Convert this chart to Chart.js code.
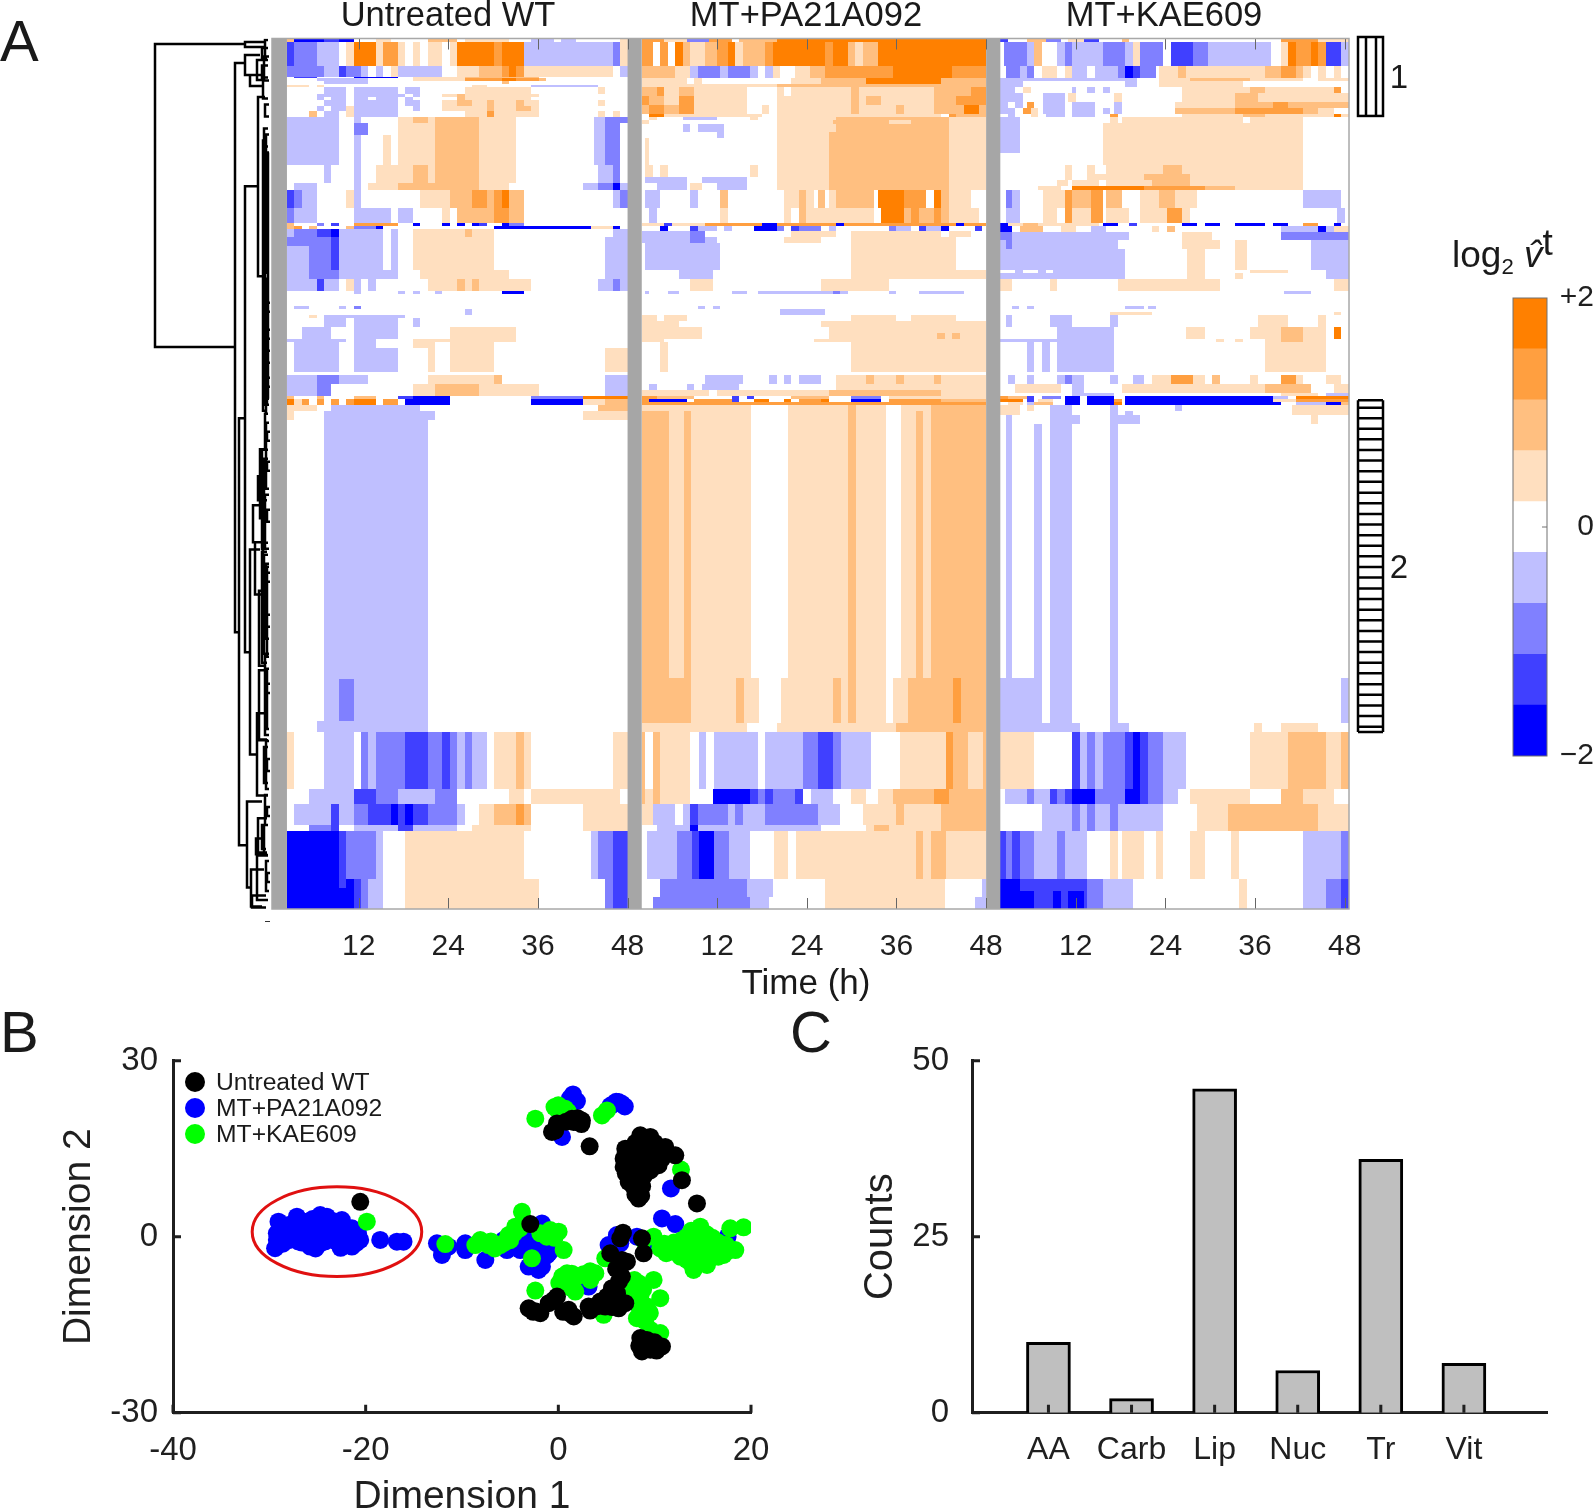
<!DOCTYPE html>
<html lang="en">
<head>
<meta charset="UTF-8">
<title>Flux heatmap, embedding and counts</title>
<style>
    body { margin: 0; background: #fff; font-family: "Liberation Sans", Arial, sans-serif; color: #1a1a1a; }
    #page { position: relative; width: 1594px; height: 1511px; overflow: hidden; }
    canvas { position: absolute; }
    .lbl { position: absolute; white-space: nowrap; line-height: 1; }
    .mid { transform: translate(-50%, -50%); }
    .dot { position: absolute; width: 20px; height: 20px; border-radius: 50%; }
    sub { font-size: 60%; vertical-align: -7px; line-height: 0; }
    sup { font-size: 100%; vertical-align: 12px; line-height: 0; }
</style>
</head>
<body>
<div id="page">
    <canvas id="dendro" width="272" height="1000" style="left:0;top:0"></canvas>
    <canvas id="heat" width="1594" height="1000" style="left:0;top:0"></canvas>
    <canvas id="cbar" width="94" height="500" style="left:1500px;top:280px"></canvas>
    <canvas id="embed" width="780" height="471" style="left:0;top:1040px"></canvas>
    <canvas id="counts" width="814" height="471" style="left:780px;top:1040px"></canvas>

    <div class="lbl" style="left:0;top:12px;font-size:58px">A</div>
    <div class="lbl" style="left:0;top:1003px;font-size:58px">B</div>
    <div class="lbl" style="left:790px;top:1003px;font-size:58px">C</div>

    <div class="lbl mid" style="left:448px;top:14px;font-size:34.5px">Untreated WT</div>
    <div class="lbl mid" style="left:806px;top:14px;font-size:34.5px">MT+PA21A092</div>
    <div class="lbl mid" style="left:1164px;top:14px;font-size:34.5px">MT+KAE609</div>
    <div class="lbl mid" style="left:806px;top:981px;font-size:35px">Time (h)</div>
    <div class="lbl mid" style="left:1399px;top:76px;font-size:33px">1</div>
    <div class="lbl mid" style="left:1399px;top:566px;font-size:33px">2</div>
    <div class="lbl" style="left:1452px;top:236px;font-size:37px">log<sub>2</sub> <i>v&#770;</i><sup>t</sup></div>

    <div class="dot" style="left:185px;top:1072px;background:#000"></div>
    <div class="dot" style="left:185px;top:1098px;background:#0000ff"></div>
    <div class="dot" style="left:185px;top:1124px;background:#00ff00"></div>
    <div class="lbl" style="left:216px;top:1070px;font-size:24.7px">Untreated WT</div>
    <div class="lbl" style="left:216px;top:1096px;font-size:24.7px">MT+PA21A092</div>
    <div class="lbl" style="left:216px;top:1122px;font-size:24.7px">MT+KAE609</div>
    <div style="position:absolute;left:265px;top:921px;width:5px;height:1px;background:#333"></div>
</div>

<script src="https://cdn.jsdelivr.net/npm/chart.js"></script>
<script>
// heatmap axis
const timeTicks = [12, 24, 36, 48, 60, 72, 84, 96, 108, 120, 132, 144];
const timeLabels = ['12', '24', '36', '48', '12', '24', '36', '48', '12', '24', '36', '48'];
const missingBlocks = [[0.4, 2.4], [48, 49.9], [96, 97.9]];
const panelSpans = [[2.4, 48], [49.9, 96], [97.9, 144.55]];
const rowCount = 290;

// log2 levels, -4..4 are the nine colour steps
const levelColors = { '4': '#ff8000', '3': '#ff9f40', '2': '#ffbf80', '1': '#ffdfbf', '-1': '#bfbfff', '-2': '#8080ff', '-3': '#4040ff', '-4': '#0000ff' };
const colorbarLevels = [-4, -3, -2, -1, 0, 1, 2, 3, 4];
const colorbarEdges = [-2, -1.556, -1.111, -0.667, -0.222, 0.222, 0.667, 1.111, 1.556, 2];

// [rowFrom, rowTo, [[colFrom, colTo, level], ...]]
const heatUntreated = [
    [0, 1, [[0, 1, 2], [1, 9, -4], [5, 7, -3], [12, 14, 1], [19, 23, 2], [24, 30, 1], [33, 36, -1], [37, 39, -1], [45, 46, 1]]],
    [1, 9, [[0, 1, -3], [1, 4, -2], [4, 7, -1], [8, 9, 1], [9, 12, 4], [12, 13, 1], [13, 15, 3], [15, 16, 1], [17, 18, 1], [18, 19, 0], [19, 21, 1], [22, 23, 1], [23, 28, 4], [28, 29, 3], [29, 32, 4], [32, 44, -1], [44, 45, -2], [45, 46, 1]]],
    [9, 12.7, [[0, 5, -2], [5, 7, -1], [7, 8, -3], [8, 10, -2], [10, 11, -1], [12, 13, -1], [14, 15, 1], [15, 21, -1], [23, 26, 1], [26, 29, 2], [29, 30, 3], [30, 31, 4], [31, 32, 3], [32, 44, 1], [45, 46, -1]]],
    [12.7, 13.2, [[1, 4, -3], [9, 15, -4], [17, 24, 1], [24, 34, 2]]],
    [13.2, 14.2, [[4, 11, -1], [17, 24, 1], [24, 34, 3], [29, 31, 4], [34, 35, 2]]],
    [14.2, 15, [[5, 11, -1], [29, 30, 2]]],
    [15.5, 16, [[0, 3, 1], [4, 5, 1], [25, 27, 1], [33, 42, -1]]],
    [16, 18.5, [[5, 8, -1], [9, 15, -1], [16, 18, -1], [24, 33, 1], [42, 43, 1]]],
    [18.5, 19.5, [[4, 8, -1], [9, 15, -1], [15, 16, -1], [17, 18, -1], [21, 34, 1], [23, 24, 2]]],
    [19.5, 20.5, [[4, 5, -1], [6, 8, -1], [9, 11, -1], [12, 15, -1], [16, 17, -1], [23, 33, 1], [23, 24, 2]]],
    [20.5, 22.5, [[5, 8, -1], [9, 15, -1], [16, 18, -1], [21, 34, 1], [23, 25, 2], [27, 28, 2], [31, 32, 2], [42, 43, 1]]],
    [22.5, 24, [[4, 5, -1], [6, 8, -1], [8, 9, 1], [9, 15, -1], [17, 18, -1], [21, 27, 1], [27, 28, 2], [28, 31, 1], [31, 33, 2], [33, 34, 1]]],
    [24, 26, [[3, 4, 2], [5, 7, -1], [8, 9, 1], [9, 15, -1], [24, 27, 1], [27, 28, 3], [28, 34, 1], [42, 43, 1], [44, 45, 1]]],
    [26, 28, [[0, 7, -1], [9, 10, -1], [15, 26, 1], [17, 19, 2], [20, 26, 2], [26, 31, 1], [43, 45, -2], [41.5, 43, -1], [45, 46, -2]]],
    [28, 32, [[0, 7, -1], [9, 11, -2], [15, 20, 1], [20, 26, 2], [26, 31, 1], [41.5, 43, -1], [43, 45, -2]]],
    [32, 42, [[0, 7, -1], [9, 10, -1], [13, 14, 1], [15, 20, 1], [20, 26, 2], [26, 31, 1], [41.5, 43, -1], [43, 45, -2]]],
    [42, 48, [[5, 6, -1], [9, 10, -1], [12, 17, 1], [17, 19, 2], [19, 20, 1], [20, 26, 2], [26, 31, 1], [42, 44, -1], [44, 45, -2]]],
    [48, 50.5, [[1, 4, -1], [9, 10, -1], [11, 15, 1], [15, 20, 2], [20, 26, 2], [26, 30, 1], [40, 42, -1], [42, 44, -2], [44, 45, -4], [45, 46, -1]]],
    [50.5, 56.5, [[0, 1, -3], [1, 2, -2], [2, 4, -1], [8, 9, 1], [9, 10, -1], [18, 22, 1], [22, 25, 2], [25, 27, 3], [27, 28, 2], [28, 29, 3], [29, 30, 4], [30, 32, 2], [44, 45, -1], [45, 46, -2]]],
    [56.5, 61.5, [[0, 1, -2], [1, 4, -1], [9, 14, -1], [15, 17, -1], [21, 22, 1], [23, 28, 2], [28, 30, 3], [30, 32, 2]]],
    [61.5, 62.3, [[0, 1, 2], [4, 5, -2], [6, 7, -3], [9, 15, 3], [17, 18, -4], [21, 22, -4], [23, 24, -4], [25, 26, -4], [26, 27, -3], [29, 30, -4], [30, 32, -2]]],
    [62.3, 63.5, [[0, 1, 2], [1, 2, 3], [3, 4, 2], [8, 9, 2], [9, 12, -2], [12, 13, -4], [28, 41, -4], [41, 44, 1], [44, 45, -4]]],
    [63.5, 66, [[0, 1, -1], [1, 4, -2], [4, 6, -3], [6, 7, -4], [7, 13, -1], [14, 15, -1], [17, 24, 1], [24, 25, 2], [25, 28, 1], [44, 46, -1]]],
    [66, 69, [[0, 3, -2], [3, 6, -2], [6, 7, -3], [7, 13, -1], [14, 15, -1], [17, 28, 1], [43, 46, -1]]],
    [69, 77, [[0, 3, -1], [3, 6, -2], [6, 7, -3], [7, 13, -1], [14, 15, -1], [17, 28, 1], [43, 46, -1]]],
    [77, 80, [[0, 3, -1], [3, 7, -2], [7, 15, -1], [18, 28, 1], [28, 30, 1], [43, 46, -1]]],
    [80, 84, [[0, 7, -1], [4, 5, -3], [8, 9, 1], [9, 10, -1], [11, 12, -1], [19, 33, 1], [23, 24, 2], [25, 26, 2], [42, 46, -1], [44, 45, -2]]],
    [84, 85, [[9, 10, -1], [15, 16, -1], [17, 18, -1], [20, 21, -1], [29, 32, -4]]],
    [89, 90, [[1, 3, -1], [7, 8, -1], [9, 10, -2]]],
    [90, 92, [[24, 25, -1]]],
    [92, 93, [[3, 4, 1], [5, 16, -1]]],
    [93, 96, [[5, 8, -1], [9, 15, -1], [17, 18, -1]]],
    [96, 100, [[2, 6, -1], [9, 15, -1], [22, 31, 1]]],
    [100, 101, [[0, 8, -1], [9, 12, -1], [17, 31, 1]]],
    [101, 103, [[1, 7, -1], [9, 12, -1], [17, 20, 1], [22, 28, 1]]],
    [103, 111, [[1, 7, -1], [9, 15, -1], [19, 20, 1], [22, 28, 1], [43, 46, 1]]],
    [112, 115, [[0, 11, -1], [4, 7, -2], [19, 28, 1], [28, 29, 2], [43, 46, -1]]],
    [115, 119, [[0, 6, -1], [4, 6, -2], [17, 34, 1], [20, 26, 2], [43, 46, -1]]],
    [119, 120, [[0, 1, 2], [4, 5, 2], [9, 12, 2], [15, 22, -3], [17, 22, -4], [33, 40, -2], [40, 46, 4]]],
    [120, 122, [[0, 1, 4], [1, 2, 1], [2, 3, 3], [4, 5, 3], [6, 7, 3], [8, 9, 3], [9, 12, 4], [13, 15, 3], [16, 22, -4], [33, 40, -4], [40, 43, 1], [43, 46, 2]]],
    [122, 124, [[0, 4, 1], [6, 18, -1], [42, 46, 2]]],
    [124, 127, [[0, 1, 1], [5, 20, -1], [40, 46, 1]]],
    [127, 213.5, [[5, 19, -1]]],
    [213.5, 227.5, [[5, 7, -1], [7, 9, -2], [9, 19, -1]]],
    [227.5, 231, [[4, 19, -1]]],
    [231, 250, [[0, 1, 1], [5, 9, -1], [10, 11, -2], [11, 12, -1], [12, 16, -2], [16, 19, -3], [19, 21, -2], [21, 22, -3], [22, 23, -2], [23, 24, -1], [24, 25, -2], [25, 27, -1], [28, 31, 1], [31, 32, 2], [32, 33, 1], [44, 46, 1]]],
    [250, 255, [[3, 9, -1], [9, 12, -3], [12, 15, -2], [15, 20, -1], [20, 23, -2], [30, 32, 1], [33, 45, 1]]],
    [255, 262, [[1, 6, -1], [6, 7, -3], [7, 9, -1], [9, 11, -2], [11, 14, -3], [14, 15, -4], [15, 16, -3], [16, 17, -4], [17, 19, -3], [19, 23, -2], [23, 24, -1], [26, 28, 1], [28, 31, 2], [31, 32, 3], [32, 33, 2], [40, 46, 1]]],
    [262, 264, [[3, 6, -2], [6, 7, -3], [9, 15, -1], [15, 17, -3], [17, 23, -1], [25, 33, 1], [40, 46, 1]]],
    [264, 280, [[0, 7, -4], [7, 8, -3], [8, 12, -2], [12, 13, -1], [16, 32, 1], [41, 42, -1], [42, 44, -2], [44, 46, -3]]],
    [280, 283, [[0, 7, -4], [7, 8, -3], [8, 9, -4], [9, 10, -3], [10, 11, -2], [11, 13, -1], [16, 34, 1], [43, 44, -2], [44, 46, -3]]],
    [283, 290, [[0, 9, -4], [9, 10, -3], [10, 11, -2], [11, 13, -1], [16, 34, 1], [43, 44, -2], [44, 46, -3]]]
];

const heatPA21A092 = [
    [0, 1, [[0, 3, 3], [3, 7, 1], [6, 9, -2], [9, 12, 3], [13, 18, 2], [18, 46, 4]]],
    [1, 9, [[0, 1.5, 3], [2.5, 3.5, 3], [4.5, 5.5, 4], [5.5, 6.5, 2], [6.5, 8.5, 1], [8.5, 10, 2], [10, 11.5, 3], [11.5, 12.5, 4], [12.5, 13.5, 1], [13.5, 16.5, 2], [16.5, 17.5, 3], [17.5, 24.5, 4], [24.5, 25.5, 3], [25.5, 27.5, 4], [27.5, 28.5, 2], [28.5, 29.5, 1], [29.5, 31.5, 2], [31.5, 46, 4]]],
    [9, 13, [[0, 4.5, 2], [4.5, 6.5, 1], [6.5, 7.5, -1], [7.5, 10.5, -2], [10.5, 11.5, -1], [11.5, 14.5, -2], [14.5, 15.5, -1], [16.5, 17.5, -1], [17.5, 18.5, 1], [20.5, 22.5, 1], [22.5, 24.5, 2], [24.5, 33.5, 3], [33.5, 41.5, 4], [41.5, 46, 3]]],
    [13, 15, [[0, 6, 1], [7, 8, 1], [20, 24, 1], [24, 30, 2], [30, 40, 4], [40, 46, 2]]],
    [15, 16, [[0, 14, 1], [14, 18, 1], [18, 46, 2]]],
    [16, 19, [[0, 2, 2], [2, 3, 3], [3, 5, 1], [5, 7, 2], [7, 14, 1], [18, 19, 1], [20, 28, 1], [28, 29, 2], [29, 39, 1], [39, 46, 2], [44, 46, 3]]],
    [19, 22, [[0, 1, 3], [1, 3, 2], [3, 5, 1], [5, 7, 3], [7, 14, 1], [18, 28, 1], [28, 29, 2], [29, 30, 1], [30, 32, 2], [32, 39, 1], [39, 46, 2], [42, 46, 3]]],
    [22, 25, [[0, 1, 2], [1, 3, 3], [3, 5, 2], [5, 7, 3], [7, 14, 1], [16, 17, 1], [18, 28, 1], [28, 29, 2], [29, 34, 1], [34, 35, 2], [35, 39, 1], [39, 46, 2], [43, 45, 4]]],
    [25, 26, [[1, 3, 4], [3, 14, 1], [14, 16, 1], [18, 28, 1], [28, 40, 1], [41, 42, 3], [42, 46, 2]]],
    [26, 27, [[1, 2, 1], [5.5, 10, -1], [14.5, 15.5, 1], [18, 26, 1], [26, 41, 2], [41, 46, 1]]],
    [27, 28.5, [[0, 1, 1], [18, 25.5, 1], [25.5, 41, 2], [41, 46, 1], [33, 36, 1]]],
    [28.5, 31, [[5.5, 6.5, -1], [7.5, 11, -1], [18, 26, 1], [26, 41, 2], [41, 46, 1]]],
    [31, 33, [[10, 11, -1], [18, 25, 1], [25, 41, 2], [41, 46, 1]]],
    [33, 42, [[0.5, 1, 1], [18, 25, 1], [25, 41, 2], [41, 46, 1]]],
    [42, 46, [[0.5, 1.5, 1], [2.5, 3.5, 1], [14.5, 15.5, 1], [18, 25, 1], [25, 41, 2], [41, 46, 1]]],
    [46, 48, [[0.5, 6, -1], [8, 14, -1], [18, 25, 1], [25, 41, 2], [41, 46, 1], [42, 45, 0]]],
    [48, 50.5, [[2, 6, -1], [6.5, 8, 1], [10, 14, -1], [18, 25, 1], [25, 41, 2], [41, 46, 1]]],
    [50.5, 56.5, [[0.5, 2.5, -1], [6.5, 7.5, -1], [10.5, 11.5, 2], [19, 21, 1], [21, 22, 2], [22, 23, 1], [23.5, 24.5, 2], [25, 26, 1], [26, 31, 2], [31.5, 35, 4], [35, 38, 3], [39, 40, 4], [40, 41, 2], [41, 44, 1]]],
    [56.5, 61.5, [[1, 2, -1], [10.5, 11.5, 1], [19, 20, 1], [21, 22, 2], [22, 31, 1], [32, 35, 4], [35, 36, 2], [36, 37, 3], [37, 39, 2], [39, 40, 3], [40, 41, 2], [41, 45, 1]]],
    [61.5, 62.5, [[0, 8.5, 1], [3, 4, -3], [8.5, 31, 3], [16, 18, -4], [26, 27, -4], [31, 46, 3], [42, 43, -4]]],
    [62.5, 64, [[2.5, 3.5, -4], [6.5, 7.5, -3], [7.5, 10, -1], [11, 12, -1], [15, 18, -4], [18, 19, -2], [20, 21, -3], [21, 24, -2], [25, 26, -1], [33, 34, -2], [34, 36, -1], [37, 38, -3], [38, 40, -1], [40, 41, -4], [44.5, 45.5, -3]]],
    [64, 66, [[0, 6.5, -1], [6.5, 8.5, -2], [20, 26, 1], [28, 40, 1], [41, 44, 1]]],
    [66, 68, [[0, 6.5, -1], [6.5, 8.5, -2], [8.5, 10, -1], [19, 24, 1], [28, 42, 1]]],
    [68, 77, [[0.5, 10.5, -1], [28, 42, 1], [40, 41, 1]]],
    [77, 80, [[5, 9.5, -1], [28, 46, 1]]],
    [80, 84, [[6.5, 9.5, 1], [24, 33, 1]]],
    [84, 85, [[0.5, 1, -1], [3.5, 5, -1], [12, 14, -1], [15.5, 27.5, -1], [25.5, 26.5, -2], [33, 34, -1], [37, 43, -1]]],
    [89, 90, [[7.5, 8.5, -1], [9.5, 10.5, -1]]],
    [90, 92, [[18.5, 24.5, -1]]],
    [92, 94, [[0, 2, 1], [3, 6, 1], [28, 34, 1], [36, 42, 1]]],
    [94, 96, [[0, 5, 1], [24, 35, 1], [35, 46, 1]]],
    [96, 98, [[0, 8, 1], [25, 46, 1]]],
    [98, 100, [[0, 8, 1], [25, 46, 1], [39.5, 40.5, 2], [41.5, 42.5, 2]]],
    [100, 101, [[0, 3, 1], [23, 46, 1]]],
    [101, 111, [[2.5, 3.5, 1], [28, 46, 1]]],
    [112, 115, [[1, 2, 0], [8.5, 13.5, -1], [17, 18, -1], [19, 20, -1], [21, 24, -1], [26, 46, 1], [30, 31, 2], [34, 35, 2], [39, 40, 2]]],
    [115, 117, [[1, 2, -1], [6, 7, -1], [8, 13, -1], [26, 46, 1]]],
    [117, 119, [[0, 9, 1], [10, 46, 1], [25, 40, 2]]],
    [119, 120, [[0, 2, 3], [2, 7, 2], [12, 13, -3], [14, 15, -3], [20, 25, 2], [28, 32, -2], [33, 46, 1]]],
    [120, 121, [[0, 1, 3], [1, 6, -4], [7, 12, 3], [12, 13, -3], [15, 17, 4], [19, 20, 4], [21, 24, 3], [24, 25, 4], [28, 32, -4], [33, 40, 3], [40, 46, 2]]],
    [121, 122, [[0, 46, 3]]],
    [122, 124, [[0, 6.6, 1], [6.6, 14.6, 1], [19.6, 27.6, 1], [27.6, 28.6, 2], [28.6, 32.6, 1], [34.6, 38.6, 1], [38.6, 46, 2]]],
    [124, 213, [[0, 3.6, 2], [3.6, 5.6, 1], [5.6, 6.6, 2], [6.6, 14.6, 1], [19.6, 27.6, 1], [27.6, 28.6, 2], [28.6, 32.6, 1], [34.6, 36.6, 1], [36.6, 37.6, 2], [37.6, 38.6, 1], [38.6, 46, 2]]],
    [213, 228, [[0, 6.6, 2], [6.6, 15.6, 1], [12.6, 13.6, 2], [18.6, 25.6, 1], [25.6, 26.6, 2], [26.6, 27.6, 1], [27.6, 28.6, 2], [28.6, 32.6, 1], [33.6, 35.6, 1], [35.6, 41.6, 2], [41.6, 42.6, 3], [42.6, 46, 2]]],
    [228, 231, [[0, 14, 1], [18, 34, 1], [34, 46, 2]]],
    [231, 250, [[0, 0.5, 2], [1.5, 2.5, 2], [2.5, 6.5, 1], [7.6, 8.6, -1], [9.6, 15.5, -1], [16.5, 21.6, -1], [21.6, 23.5, -2], [23.5, 25.6, -3], [25.6, 26.6, -2], [26.6, 30.6, -1], [34.5, 40.6, 1], [40.6, 41.6, 3], [41.6, 43.6, 2], [43.6, 45.6, 1], [45.6, 46, 2]]],
    [250, 255, [[0, 0.5, 2], [0.5, 1.5, 1], [1.5, 2.5, 2], [2.5, 6.5, 1], [9.5, 14.5, -4], [14.5, 15.5, -3], [15.5, 16.5, -2], [16.5, 17.5, -3], [17.5, 20.5, -2], [20.5, 21.5, -3], [22.6, 25.5, -1], [28, 30, 1], [31.5, 33.5, 1], [33.5, 39, 2], [39, 41, 3], [41, 46, 2]]],
    [255, 262, [[0, 1.5, 1], [1.5, 4.5, -1], [5.5, 6.5, -1], [6.5, 7.5, -3], [7.5, 11.5, -2], [11.5, 12.5, -1], [12.5, 13.5, -2], [13.5, 16.5, -1], [16.5, 23.5, -2], [23.5, 26.5, -1], [29.5, 34, 1], [34, 35, 2], [35, 40, 1], [40, 46, 2]]],
    [262, 264, [[2, 6.5, -1], [6.5, 7.5, -4], [7.5, 24, -1], [30, 40, 1], [31, 33, 2], [40, 46, 2]]],
    [264, 280, [[0.7, 4.7, -1], [4.7, 6.7, -2], [6.7, 7.6, -3], [7.6, 9.6, -4], [9.6, 11.6, -2], [11.6, 14.5, -1], [17.7, 19.6, 1], [20.6, 36.6, 1], [36.6, 37.6, 2], [37.6, 38.6, 1], [38.6, 40.6, 2], [40.6, 46, 1]]],
    [280, 286, [[2.5, 14, -2], [14, 17.5, -1], [24.5, 40.5, 1], [45.5, 46, -1]]],
    [286, 290, [[1.5, 14.5, -2], [14.5, 17, -1], [24.5, 40.5, 1], [44.5, 46, -1]]]
];

const heatKAE609 = [
    [0, 1, [[0, 1, -3], [3.5, 6, 2], [6, 8, -2], [9, 11, 1], [11, 13, -3], [16, 17, 2], [37, 42, 3], [42, 46, 1]]],
    [1, 9, [[0.5, 3.5, -2], [3.5, 4.5, -1], [4.5, 5.5, 2], [7.5, 8.5, -1], [8.5, 9.5, -2], [9.5, 13.5, -1], [13.5, 16.5, -2], [16.5, 17.5, -1], [17.5, 18.5, 1], [18.5, 21.5, -2], [22.5, 25.4, -3], [25.4, 27.4, -2], [27.4, 35.7, -1], [37, 38, 1], [38, 39, 4], [39, 41, 3], [41, 42, 4], [42, 43, 3], [43, 45, -3], [45, 46, -1]]],
    [9, 13, [[0.7, 2.6, -2], [2.6, 3.5, -1], [3.5, 4.5, -2], [5.5, 7.5, 1], [8.5, 9.5, 1], [9.5, 11.5, -1], [12.5, 15.5, -1], [15.5, 16.5, -2], [16.5, 17.5, -4], [17.5, 18.5, -3], [18.5, 20.5, -2], [21, 23.5, 1], [23.5, 24.5, 2], [24.5, 35, 1], [35, 37, 2], [37, 39, 3], [39, 40, 2], [40, 41, 1], [42, 43, 1], [44, 45, 1]]],
    [13, 14, [[0, 18, -1], [21, 25, 1], [25, 33, 2], [33, 40, 1], [42, 46, 1]]],
    [14, 16, [[0, 3, -1], [16.5, 18, -1], [21, 32, 1]]],
    [16, 18, [[0, 2, -1], [3, 4, 1], [9.5, 10, -1], [11.5, 12.5, -1], [13.5, 14.5, -1], [24, 33, 1], [33, 35, 2], [35, 44, 1], [44, 45, 3]]],
    [18, 21, [[0, 2, -1], [2, 3, -1], [5.6, 8.5, -1], [9, 10, 1], [15, 16, 1], [24, 32, 1], [31, 34, 2], [34, 40, 1], [40, 46, 1]]],
    [21, 23, [[0, 1, -1], [2, 3, -1], [3.5, 4.5, 3], [5.6, 8.5, -1], [9.5, 12.5, -1], [15, 16, -1], [23, 31, 1], [31, 36, 2], [36, 38, 3], [38, 46, 2]]],
    [23, 25, [[0, 2, -1], [2, 3.5, 0], [3, 4, 3], [4, 5, 1], [5.6, 8.5, -1], [9.5, 12.5, -1], [13.5, 14.5, -1], [15, 16, -1], [23, 31, 2], [31, 40, 3], [40, 42, 2], [42, 44, 1]]],
    [25, 26, [[1, 2, -1], [4, 5, 1], [6, 8.5, -1], [9.5, 12.5, -1], [14.5, 15.5, 3], [24, 46, 1], [32, 35, 2], [44, 45, 4]]],
    [26, 28, [[0, 2.6, -1], [14.5, 15.5, 1], [16, 32, 1], [33, 40, 1]]],
    [28, 38, [[0, 2.6, -1], [13.5, 40, 1]]],
    [38, 42, [[13.5, 40, 1]]],
    [42, 45, [[8.5, 9.5, 1], [11.5, 12.5, 1], [14, 40, 1], [21.5, 24, 2], [22.5, 23.5, 2]]],
    [45, 47, [[8.5, 9.5, 1], [11.5, 14, 1], [14, 40, 1], [19, 25, 2]]],
    [47, 49, [[7.5, 9, 1], [9.5, 13, 1], [14, 40, 1], [20, 25, 2]]],
    [49, 50.5, [[5, 8, 1], [9.5, 19, 4], [19, 27, 3], [27, 31, 2], [31, 40, 1]]],
    [50.5, 56.5, [[0.7, 1.6, -2], [1.6, 2.6, -1], [5.6, 8.5, 1], [8.5, 9.5, 3], [9.5, 12, 2], [12, 13.5, 3], [14, 16, 2], [18.5, 21, 1], [21, 23, 2], [23, 26, 1], [40, 45, -1]]],
    [56.5, 61.5, [[0.7, 2.6, -1], [5.6, 7.5, 1], [8.5, 9.5, 3], [9.5, 12, 1], [12, 13.5, 3], [14, 17, 1], [18.5, 21, 1], [21, 22, 1], [22, 24, 3], [24, 25, 1], [44.5, 45.5, -1]]],
    [61.5, 62.5, [[0, 1, -4], [1, 6, 1], [3, 5, 2], [6, 13, 1], [13.5, 15.5, -4], [17, 18, -3], [24, 26, -4], [27, 29, -4], [31, 35, -4], [36, 38, -4], [40, 42, 3], [44, 45, -4]]],
    [62.5, 64.5, [[0, 1.6, -4], [2.6, 5.6, 2], [8, 10, 1], [12, 14, -1], [20, 21, 1], [22, 23, 2], [37, 44, -1], [42, 43, -4], [44, 46, 1]]],
    [64.5, 67, [[0, 1.6, -2], [1.6, 17, -1], [24, 28, 1], [37, 43, -2], [43, 44, -1], [43, 46, -2]]],
    [67, 70, [[0.7, 1.6, -2], [0, 0.7, -1], [1.6, 15.5, -1], [24, 29, 1], [31, 32.5, 1], [41, 46, -1]]],
    [70, 77, [[0, 16.5, -1], [24.6, 27, 1], [31, 32.5, 1], [41, 46, -1]]],
    [77, 78, [[2, 3, -1], [5, 6, -1], [7, 16.5, -1], [24.6, 27, 1], [33, 38, 1], [43, 46, -1]]],
    [78, 80, [[0, 16.5, -1], [24.6, 27, 1], [31, 32, 1], [43, 46, -1]]],
    [80, 84, [[15.5, 29, 1], [19, 29, 1], [0, 1.5, 1], [6.5, 7.5, 1], [44, 45, 1], [45, 46, 1]]],
    [84, 85, [[19, 23, 0], [37.5, 41, -1]]],
    [89, 90, [[1.5, 2.5, -1], [3.5, 4.5, -1], [16.5, 19, -1], [19.5, 20.5, -1]]],
    [91, 92, [[14.5, 20, 1], [44, 45, 1]]],
    [92, 96, [[0.7, 1.6, -1], [6.6, 9.5, -1], [14.5, 15.5, -1], [34, 38, 1], [42, 43, 1]]],
    [96, 100, [[7.5, 15, -1], [24.5, 27, 1], [33, 43, 1], [37, 40, 2], [44, 45, 4]]],
    [100, 101, [[0, 8, -1], [8, 15, -1], [28.5, 29.5, 1], [31, 32, 1], [35, 43, 1], [37, 40, 2]]],
    [101, 111, [[3.5, 4.5, -1], [5.5, 6.5, -1], [7.5, 15, -1], [35, 43, 1]]],
    [112, 115, [[1, 2, -1], [3.5, 4.5, -1], [7.5, 11, -1], [8.5, 9.5, -2], [14.5, 15.5, -1], [17.5, 19, -1], [20, 27, 1], [22.5, 25.5, 3], [28, 29, 2], [33, 34, 1], [37, 39, 3], [39, 40, 1], [43, 45, 1]]],
    [115, 118, [[9.5, 11, -1], [2, 8, 1], [16, 35, 1], [35, 41, 2], [44, 46, 1]]],
    [118, 119, [[9.5, 15, -1], [37, 42, 1], [43, 46, -1]]],
    [119, 120, [[0, 1, 3], [1, 3.5, 2], [3.5, 4.5, -3], [5.5, 8, -2], [8.5, 10.5, -4], [11.5, 15, -4], [16.5, 36, -4], [36, 38, -1], [39, 46, 4]]],
    [120, 121, [[0, 3, 4], [3.5, 4.5, -3], [5, 7, 1], [8.5, 10.5, -4], [11.5, 15, -4], [15, 16, 3], [16.5, 36, -4], [36, 39, 1], [39, 46, 3]]],
    [121, 122, [[1, 3, 1], [3.5, 4.5, -1], [4.5, 7, 2], [8.5, 10.5, -4], [11.5, 15, -4], [15, 16, 4], [16.5, 37, -4], [39, 44, -1], [43, 45, -4], [45, 46, 2]]],
    [122, 124, [[0, 2.6, 1], [3.5, 4.5, 1], [6.6, 9.5, -1], [14.5, 15.5, -1], [23, 24, -1], [38.5, 46, 1]]],
    [124, 125.5, [[0, 2.6, 1], [6.6, 9.5, -1], [14.5, 15.5, -1], [16.5, 17.5, -1], [38.5, 46, 1]]],
    [125.5, 128.5, [[0.7, 1.6, -1], [6.6, 9.5, -1], [9.5, 10.5, -1], [14.5, 18.5, -1], [41, 42, 1]]],
    [128.5, 213, [[0.7, 1.6, -1], [4.5, 5.5, -1], [6.6, 9.5, -1], [14.5, 15.5, -1]]],
    [213, 228, [[0, 5.5, -1], [6.5, 9.5, -1], [14.5, 15.5, -1], [45, 46, -1]]],
    [228, 231, [[0, 10.5, -1], [14.5, 17, -1], [33.5, 34.5, 1], [37, 42, 1]]],
    [231, 250, [[0, 4.5, 1], [9.5, 10.5, -3], [10.5, 11.5, -1], [11.5, 12.5, -2], [12.5, 13.5, -1], [13.5, 16.5, -2], [16.5, 17.5, -3], [17.5, 18.5, -4], [18.5, 19.5, -3], [19.5, 21.5, -2], [21.5, 24.5, -1], [33, 38, 1], [38, 43, 2], [43, 45, 1], [45, 46, 2]]],
    [250, 255, [[0.6, 3.5, -1], [3.5, 4.5, -2], [4.5, 6.5, -1], [6.5, 7.5, -3], [7.5, 8.5, -2], [8.5, 9.5, -3], [9.5, 12.5, -4], [12.5, 16.5, -2], [16.5, 18.5, -4], [18.5, 19.5, -3], [19.5, 21.5, -2], [21.5, 23.5, -1], [25, 33, 1], [37, 40, 2], [40, 44, 1]]],
    [255, 264, [[1.6, 5.5, 0], [5.5, 9.5, -1], [9.5, 10.5, -2], [10.5, 11.5, -1], [11.5, 12.5, -2], [12.5, 14.5, -1], [14.5, 15.5, -2], [15.5, 21.5, -1], [26, 30, 1], [30, 42, 2], [42, 46, 1]]],
    [264, 280, [[0, 0.7, -3], [0.7, 1.6, -2], [1.6, 2.6, -3], [2.6, 4.5, -2], [4.5, 7.5, -1], [7.5, 8.5, -2], [8.5, 11.5, -1], [14.5, 15.5, 1], [16, 19, 1], [20.5, 21.5, 1], [25, 27, 1], [30.5, 31.5, 1], [40, 45, -1], [45, 46, -2]]],
    [280, 284, [[0, 2.6, -4], [2.6, 4.5, -3], [4.5, 11.5, -3], [11.5, 13.5, -2], [13.5, 17.5, -1], [31.5, 32.5, 1], [40, 43, -1], [43, 45, -2], [45, 46, -3]]],
    [284, 290, [[0, 4.5, -4], [4.5, 7, -3], [7, 8, -4], [8, 9, -3], [9, 11, -4], [11, 11.5, -3], [11.5, 13.5, -2], [13.5, 17.5, -1], [31.5, 32.5, 1], [40, 43, -1], [43, 45, -2], [45, 46, -3]]]
];

// cluster brackets on the right of the heatmap, in rows
const clusterOneRows = [-0.5, 25.8];
const clusterTwoRows = [120.5, 123, 126.5, 130, 133.5, 137.1, 140.6, 144.2, 147.7, 151.3, 154.8, 158.4, 161.9, 165.5, 169, 172.5, 176.1, 179.6, 183.2, 186.7, 190.3, 193.8, 197.4, 200.9, 204.4, 208, 211.5, 215.1, 218.6, 222.2, 225.7, 229.3, 231];

// dendrogram links: [rowTop, rowBottom, distance, distanceTopEnd, distanceBottomEnd]
const dendroLinks = [
    [1.8, 102.8, 115, 25, 35], [8.2, 197.8, 35, 25, 31], [126.5, 268.8, 31, 26, 23], [49.2, 204.5, 25, 12, 20],
    [170.2, 238.5, 20, 10, 12], [254.2, 282.8, 23, 8, 20], [19.5, 79.2, 12, 5, 5], [5.5, 12.2, 25, 10, 20],
    [12.2, 15.8, 20, 6, 8], [7.2, 13.8, 13, 3, 5], [3.2, 6.5, 8, 2, 3], [1.2, 2.8, 25, 5, 5], [0.5, 7.2, 5, 2, 2],
    [155.5, 167.8, 17, 5, 5], [167.8, 185.2, 15, 5, 5], [184, 209, 11, 4, 4], [136.8, 159.8, 10, 3, 3],
    [145.8, 153.8, 12, 3, 3], [171, 185, 8, 3, 3], [210.5, 233.5, 11, 3, 3], [224.8, 233.5, 13, 4, 4],
    [233.8, 252.2, 13, 2, 2], [259.8, 271.2, 12, 3, 3], [266.5, 271.8, 14, 6, 6], [272.2, 287, 13, 2, 2],
    [276.8, 289.2, 19, 6, 8], [285.5, 289.5, 18, 4, 4], [30, 80, 6, 2, 2], [32, 78, 4, 1, 1], [80, 125, 4, 2, 2],
    [82, 122, 3, 1, 1], [125, 137, 5, 2, 2], [128, 150, 4, 1, 1], [150, 172, 7, 2, 2], [152, 170, 5, 1, 1],
    [172, 205, 6, 2, 2], [175, 200, 4, 1, 1], [205, 232, 5, 1, 1], [210, 230, 3, 1, 1], [234, 250, 4, 1, 1],
    [252, 262, 5, 2, 2], [262, 272, 6, 2, 2], [274, 284, 4, 1, 1], [9, 13, 8, 2, 2], [14, 20, 7, 2, 2],
    [22, 26, 5, 1, 1], [44, 47, 4, 1, 1], [60, 64, 4, 1, 1], [88, 91, 3, 0, 0], [97, 100, 3, 0, 0], [104, 108, 3, 0, 0],
    [113, 116, 3, 0, 0], [131, 134, 3, 0, 0], [141, 144, 3, 0, 0], [157, 161, 3, 0, 0], [178, 181, 3, 0, 0],
    [192, 196, 3, 0, 0], [215, 218, 3, 0, 0], [240, 244, 3, 0, 0], [256, 259, 3, 0, 0], [278, 281, 3, 0, 0],
    [34, 124, 7, 3, 3], [36, 122, 5, 2, 2], [38, 120, 2, 1, 1], [137, 170, 8, 2, 2], [140, 168, 6, 2, 2],
    [172, 208, 8, 3, 3], [176, 206, 3, 1, 1], [236, 248, 6, 2, 2], [262, 270, 8, 4, 4], [6, 14, 6, 1, 1]
];

// embedding, one [x, y] per sample
const wtPoints = [[-0.32, 18.1], [-0.66, 17.85], [-0.14, 19.3], [1.41, 20.1], [1.93, 19.55], [2.45, 19.8], [1.59, 19.55], [0.8, 19.6], [2, 20.2], [2.4, 19.2], [3.25, 15.4], [8.51, 17.28], [9.55, 17], [6.95, 15], [11.1, 15.3], [12.14, 13.88], [7.81, 15.3], [9.2, 15.6], [10.24, 14.7], [6.78, 13.3], [7.81, 13.3], [9.03, 13.3], [10.41, 12.18], [6.78, 11.9], [8.16, 11.6], [9.55, 11.3], [7.3, 9.35], [8.51, 9.63], [7.81, 8.5], [8.33, 6.5], [8.16, 7.93], [8, 16], [9, 16], [10, 16], [7.5, 14], [8.6, 14.4], [9.6, 14], [11, 14], [7.4, 12.4], [8.6, 12.6], [9.6, 12.6], [10.8, 13.4], [7, 10.8], [8, 10.6], [8.9, 10.4], [7.6, 9.9], [8.7, 8.6], [8, 7.2], [8.6, 7], [12.83, 9.63], [14.39, 5.67], [-2.91, 2.15], [6.71, 0.68], [6.43, -0.28], [8.68, -0.28], [5.39, -2.83], [8.85, -2.83], [6.6, -3.97], [7.12, -4.25], [6, -5.5], [6.6, -6.8], [6.3, -7.6], [5.57, -8.78], [5.05, -10.2], [5.5, -10], [6.09, -9.63], [3.14, -11.9], [4.35, -11.05], [6.26, -12.2], [6.95, -11.33], [4.87, -11.9], [4.2, -11.8], [3.7, -12], [5.6, -12], [3.3, -12.6], [-0.14, -10.2], [-0.5, -10.8], [-1, -11.33], [-3.08, -12.2], [-2.6, -12.8], [-1.87, -13.03], [-2.4, -12.7], [1.17, -13.03], [1.07, -12.46], [0.5, -12.8], [1.6, -13.6], [8.85, -18.13], [8.68, -19.55], [9.72, -18.13], [10.76, -18.7], [9.55, -19.26], [8.51, -17.28], [9, -18.8], [9.8, -19], [9.2, -17.6], [10, -18], [8.4, -18.6], [10.2, -19.4], [-20.56, 5.95]];
const paPoints = [[1.52, 24.25], [1.93, 23.12], [1.2, 23.6], [6.26, 22.95], [6.6, 22.66], [5.74, 22.66], [6, 23], [5.4, 22.3], [6.9, 22.2], [0.38, 17], [-12.6, -1.13], [-12.08, -3.12], [-11.4, -1.7], [-9.66, -1.13], [-9.66, -2.27], [-7.58, -3.97], [-5.33, -2.27], [-5.68, -0.57], [-3.95, -2.27], [-2.91, 0], [-1.7, 2.27], [-1.7, -2.27], [-1.01, -1.98], [-3.08, -5.1], [-2.05, -5.67], [-1.7, -5.1], [-2.22, -2.83], [-2.4, -1.4], [-3.4, -1], [-1.2, -3.2], [-2, -4], [-2.6, -4.6], [-1, -2.8], [-1.8, 1.2], [-2.6, 1], [2.62, -8.2], [3.14, -8.5], [1.93, -8.5], [1.41, -8.78], [10.76, 3.12], [12.14, 2.15], [11.69, 8.22], [6.08, 0.28], [5.22, -1.42], [6.43, -1.13], [9.55, -0.85], [17.57, 0], [8.16, 0], [-29.05, 2.56], [-29.22, 0.58], [-29.4, -1.97], [-29.22, -0.56], [-27.14, 3.41], [-26.8, 1.71], [-24.72, 3.69], [-24.03, 3.41], [-22.47, 2.84], [-21.43, 1.43], [-26.1, -1.12], [-25.76, -1.69], [-24.72, -1.12], [-22.3, -1.12], [-21.43, -1.69], [-20.57, -0.56], [-28.18, 0.58], [-23.34, 0], [-25.07, 1.14], [-22.64, 1.14], [-27.49, 0], [-18.49, -0.56], [-16.76, -0.84], [-16.07, -0.84], [-26.45, 0.29], [-28, 2], [-27, 1.8], [-26, 2.6], [-25.5, 3], [-24.8, 2.4], [-24, 2], [-23.2, 2.6], [-23, 1.6], [-22, 1.4], [-21.8, 0.4], [-20.8, 0.6], [-28, -0.6], [-27, -0.8], [-26, -0.2], [-25, 0], [-24, 0.3], [-24.2, -0.8], [-23, -0.9], [-22, -0.3], [-21, -1.1], [-28.6, -1.2], [-26.6, -1], [-25.2, -2], [-22.6, -1.9]];
const kaePoints = [[-2.39, 20.11], [-0.14, 21.8], [0.72, 21.8], [0.2, 21.25], [0.6, 20.9], [-0.4, 22.1], [0, 22.4], [1, 21.3], [4.53, 20.68], [5.05, 21.53], [12.73, 11.45], [-11.73, -1.25], [-8.62, -1.42], [-8.1, -0.57], [-7.24, -1.42], [-7, -0.8], [-6.6, -2], [-6.03, -1.42], [-5.6, -1], [-5, -0.6], [-5.16, 0.28], [-4.6, 0.6], [-4.47, 1.7], [-4, 1.4], [-3.6, 2.8], [-3.78, 4.25], [-1.87, 0.57], [-1.2, 0], [-0.4, -0.2], [-0.84, 1.13], [0.03, 0.85], [0.55, -2.27], [-2.74, -3.68], [-2.39, -9.18], [0.38, -7.37], [0.4, -6.8], [0.9, -6.23], [1.4, -6.3], [1.93, -6.8], [2.6, -6.4], [0.9, -8.5], [0.1, -7.9], [1.4, -8.3], [3.84, -6.23], [3.3, -5.9], [3.32, -7.37], [1.76, -9.35], [4.7, -13.31], [4.87, -3.68], [9.89, 0], [8.85, -0.57], [10.58, -1.98], [11.97, -1.7], [13.35, 0], [14.74, 1.7], [14.04, -1.7], [15.43, -0.57], [16.12, -1.13], [16.81, -2.27], [18.37, -2.27], [17.85, 1.42], [19.23, 1.59], [12.66, -3.4], [14.04, -5.66], [15.43, -4.82], [14.74, -3.4], [16.12, -3.4], [17.16, -3.12], [13.35, -3.97], [11.62, -2.55], [12, -1], [12.8, -0.6], [13.4, -1.5], [14, -0.2], [14.6, 0.6], [15, -1.2], [15.4, 0.4], [15.8, -2.2], [13, -2.6], [13.8, -2.9], [14.5, -2], [15, -3], [16.6, -1], [17.4, -1.4], [16, -0.2], [12.2, -2.2], [11, -1.2], [13.8, -4.6], [14.4, -4.4], [15, -4], [14.2, 0.9], [13.8, 1], [17.6, -2.4], [16.6, -3.4], [11.2, -2.8], [8.33, -7.93], [7.9, -7.4], [9.89, -7.37], [8.4, -8.8], [8.8, -9], [7.82, -9.35], [8.51, -10.2], [8, -11], [10.58, -10.48], [8.4, -12], [8.51, -13.03], [9, -13], [9.5, -13], [8.16, -13.88], [9, -14.4], [9.55, -15.86], [10.58, -16.43], [9.2, -11.9], [7.47, -8.78], [-19.88, 2.56]];
const ringCenter = [-22.98, 0.85];
const ringRadius = [8.8, 7.65];

// counts per pathway class
const classNames = ['AA', 'Carb', 'Lip', 'Nuc', 'Tr', 'Vit'];
const classPositions = [1, 2, 3, 4, 5, 6];
const classCounts = [10, 2, 46, 6, 36, 7];

const fontName = '"Liberation Sans", Arial, sans-serif';
const inkColor = '#1f1f1f';
Chart.defaults.font.family = fontName;
Chart.defaults.color = inkColor;
Chart.defaults.animation = false;

function heatCells() {
    const cells = [];
    [heatUntreated, heatPA21A092, heatKAE609].forEach((bands, p) => {
        const [from, to] = panelSpans[p];
        const step = (to - from) / 46;
        bands.forEach(([r0, r1, runs]) => {
            runs.forEach(([c0, c1, level]) => {
                if (!level) return;
                const h0 = from + c0 * step, h1 = from + c1 * step;
                cells.push({ x: (h0 + h1) / 2, y: (r0 + r1) / 2, h0, h1, r0, r1, color: levelColors[level] });
            });
        });
    });
    return cells;
}

const heatPlugin = {
    id: 'heatCells',
    beforeDatasetsDraw(chart) {
        const { ctx, chartArea: a } = chart;
        const sx = chart.scales.x, sy = chart.scales.y;
        ctx.save();
        chart.data.datasets[0].data.forEach(c => {
            const x0 = Math.round(sx.getPixelForValue(c.h0)), x1 = Math.round(sx.getPixelForValue(c.h1));
            const y0 = Math.round(sy.getPixelForValue(c.r0)), y1 = Math.round(sy.getPixelForValue(c.r1));
            ctx.fillStyle = c.color;
            ctx.fillRect(x0, y0, x1 - x0, y1 - y0);
        });
        ctx.fillStyle = '#a6a6a6';
        missingBlocks.forEach(([h0, h1]) => {
            const x0 = sx.getPixelForValue(h0);
            ctx.fillRect(x0, a.top, sx.getPixelForValue(h1) - x0, a.height);
        });
        ctx.restore();
    },
    afterDatasetsDraw(chart) {
        const { ctx, chartArea: a } = chart;
        const sx = chart.scales.x, sy = chart.scales.y;
        ctx.save();
        ctx.strokeStyle = '#666';
        ctx.lineWidth = 1;
        ctx.beginPath();
        timeTicks.forEach(t => {
            const x = Math.round(sx.getPixelForValue(t)) + 0.5;
            ctx.moveTo(x, a.bottom); ctx.lineTo(x, a.bottom - 11);
            ctx.moveTo(x, a.top); ctx.lineTo(x, a.top + 11);
        });
        ctx.stroke();
        ctx.strokeStyle = '#a8a8a8';
        ctx.lineWidth = 1.5;
        ctx.strokeRect(a.left, a.top, a.width, a.height);

        // cluster brackets
        ctx.strokeStyle = '#000';
        ctx.lineWidth = 2.5;
        const top1 = sy.getPixelForValue(clusterOneRows[0]), bot1 = sy.getPixelForValue(clusterOneRows[1]);
        ctx.strokeRect(1358, top1, 25, bot1 - top1);
        ctx.beginPath();
        [1366, 1376].forEach(x => { ctx.moveTo(x, top1); ctx.lineTo(x, bot1); });
        const top2 = sy.getPixelForValue(clusterTwoRows[0]), bot2 = sy.getPixelForValue(clusterTwoRows[clusterTwoRows.length - 1]);
        clusterTwoRows.forEach(r => {
            const y = sy.getPixelForValue(r);
            ctx.moveTo(1358, y); ctx.lineTo(1383, y);
        });
        ctx.moveTo(1358, top2); ctx.lineTo(1358, bot2);
        ctx.moveTo(1383, top2); ctx.lineTo(1383, bot2);
        ctx.stroke();
        ctx.restore();
    }
};

new Chart(document.getElementById('heat'), {
    type: 'scatter',
    data: { datasets: [{ data: heatCells(), pointRadius: 0, pointHoverRadius: 0 }] },
    plugins: [heatPlugin],
    options: {
        responsive: false,
        layout: { autoPadding: false, padding: { left: 272, right: 245, top: 38.5, bottom: 0 } },
        plugins: { legend: { display: false }, tooltip: { enabled: false } },
        scales: {
            x: {
                type: 'linear', min: 0.4, max: 144.58,
                afterBuildTicks: s => { s.ticks = timeTicks.map(v => ({ value: v })); },
                afterFit: s => { s.height = 91; },
                grid: { display: false }, border: { display: false },
                ticks: {
                    autoSkip: false, maxRotation: 0, padding: 12, font: { size: 30 },
                    callback: (v, i) => timeLabels[i]
                }
            },
            y: { type: 'linear', min: 0, max: rowCount, reverse: true, display: false }
        }
    }
});

const dendroPoints = [];
dendroLinks.forEach(([r0, r1, d, dTop, dBot]) => {
    dendroPoints.push({ x: dTop, y: r0 }, { x: d, y: r0 }, { x: d, y: r1 }, { x: dBot, y: r1 }, { x: null, y: null });
});

new Chart(document.getElementById('dendro'), {
    type: 'line',
    data: { datasets: [{ data: dendroPoints, borderColor: '#000', borderWidth: 2.5, pointRadius: 0, spanGaps: false, tension: 0 }] },
    options: {
        responsive: false,
        layout: { autoPadding: false, padding: { left: 150, right: 2, top: 38.5, bottom: 91 } },
        plugins: { legend: { display: false }, tooltip: { enabled: false } },
        scales: {
            x: { type: 'linear', min: 0, max: 120, reverse: true, display: false },
            y: { type: 'linear', min: 0, max: rowCount, reverse: true, display: false }
        }
    }
});

new Chart(document.getElementById('cbar'), {
    type: 'bar',
    data: {
        labels: [''],
        datasets: colorbarLevels.map((l, i) => ({
            data: [[colorbarEdges[i], colorbarEdges[i + 1]]],
            backgroundColor: l === 0 ? '#ffffff' : levelColors[l],
            categoryPercentage: 1, barPercentage: 1
        }))
    },
    plugins: [{
        id: 'cbarFrame',
        afterDatasetsDraw(chart) {
            const { ctx, chartArea: a } = chart;
            ctx.save();
            ctx.strokeStyle = '#707070';
            ctx.lineWidth = 1;
            ctx.strokeRect(a.left, a.top, a.width, a.height);
            const y = chart.scales.y.getPixelForValue(0);
            ctx.beginPath(); ctx.moveTo(a.right, y); ctx.lineTo(a.right - 5, y); ctx.stroke();
            ctx.restore();
        }
    }],
    options: {
        responsive: false,
        layout: { autoPadding: false, padding: { left: 13, right: 0, top: 18, bottom: 24 } },
        plugins: { legend: { display: false }, tooltip: { enabled: false } },
        scales: {
            x: { stacked: true, display: false },
            y: {
                position: 'right', min: -2, max: 2,
                afterBuildTicks: s => { s.ticks = [{ value: -2 }, { value: 0 }, { value: 2 }]; },
                afterFit: s => { s.width = 47; s.paddingTop = 0; s.paddingBottom = 0; },
                grid: { display: false }, border: { display: false },
                ticks: {
                    crossAlign: 'far', font: { size: 30 },
                    callback: v => (v > 0 ? '+' + v : v < 0 ? '\u2212' + (-v) : '0')
                }
            }
        }
    }
});

// ticks point into the plot on the two lower panels
const innerTicks = {
    id: 'innerTicks',
    afterDatasetsDraw(chart) {
        const { ctx, chartArea: a } = chart;
        ctx.save();
        ctx.strokeStyle = inkColor;
        ctx.lineWidth = 3;
        ctx.beginPath();
        chart.scales.x.ticks.forEach(t => {
            const x = chart.scales.x.getPixelForValue(t.value);
            ctx.moveTo(x, a.bottom); ctx.lineTo(x, a.bottom - 8);
        });
        chart.scales.y.ticks.forEach(t => {
            const y = chart.scales.y.getPixelForValue(t.value);
            ctx.moveTo(a.left, y); ctx.lineTo(a.left + 8, y);
        });
        ctx.stroke();
        ctx.restore();
    }
};

const ringPlugin = {
    id: 'ring',
    afterDatasetsDraw(chart) {
        const sx = chart.scales.x, sy = chart.scales.y, ctx = chart.ctx;
        const cx = sx.getPixelForValue(ringCenter[0]), cy = sy.getPixelForValue(ringCenter[1]);
        const rx = sx.getPixelForValue(ringCenter[0] + ringRadius[0]) - cx;
        const ry = cy - sy.getPixelForValue(ringCenter[1] + ringRadius[1]);
        ctx.save();
        ctx.strokeStyle = '#e01010';
        ctx.lineWidth = 3;
        ctx.beginPath();
        ctx.ellipse(cx, cy, rx, ry, 0, 0, Math.PI * 2);
        ctx.stroke();
        ctx.restore();
    }
};

const toXY = list => list.map(([x, y]) => ({ x, y }));

new Chart(document.getElementById('embed'), {
    type: 'scatter',
    data: {
        datasets: [
            { label: 'Untreated WT', data: toXY(wtPoints), backgroundColor: '#000' },
            { label: 'MT+KAE609', data: toXY(kaePoints), backgroundColor: '#00ff00' },
            { label: 'MT+PA21A092', data: toXY(paPoints), backgroundColor: '#0000ff' }
        ]
    },
    plugins: [innerTicks, ringPlugin],
    options: {
        responsive: false,
        layout: { autoPadding: false, padding: { left: 0, right: 29, top: 20.7, bottom: 0 } },
        elements: { point: { radius: 9, borderWidth: 0 } },
        plugins: { legend: { display: false }, tooltip: { enabled: false } },
        scales: {
            x: {
                min: -40, max: 20,
                afterFit: s => { s.height = 98.3; s.paddingLeft = 0; s.paddingRight = 0; },
                grid: { display: false }, border: { color: inkColor, width: 3 },
                ticks: { stepSize: 20, padding: 10, font: { size: 33 }, maxRotation: 0 },
                title: { display: true, text: 'Dimension 1', font: { size: 39, lineHeight: 1 }, padding: { top: 0, bottom: -6 } }
            },
            y: {
                min: -30, max: 30,
                afterFit: s => { s.width = 173; s.paddingTop = 0; s.paddingBottom = 0; },
                grid: { display: false }, border: { color: inkColor, width: 3 },
                ticks: { stepSize: 30, padding: 7, font: { size: 33 } },
                title: { display: true, text: 'Dimension 2', font: { size: 39, lineHeight: 1 }, padding: { top: 60, bottom: 0 } }
            }
        }
    }
});

new Chart(document.getElementById('counts'), {
    type: 'bar',
    data: {
        datasets: [{
            data: classPositions.map((x, i) => ({ x, y: classCounts[i] })),
            backgroundColor: '#bfbfbf', borderColor: '#000', borderWidth: 3, barThickness: 44
        }]
    },
    plugins: [innerTicks],
    options: {
        responsive: false,
        layout: { autoPadding: false, padding: { left: 0, right: 47, top: 20.7, bottom: 0 } },
        plugins: { legend: { display: false }, tooltip: { enabled: false } },
        scales: {
            x: {
                type: 'linear', min: 0.08, max: 7, offset: false,
                afterBuildTicks: s => { s.ticks = classPositions.map(v => ({ value: v })); },
                afterFit: s => { s.height = 98.3; s.paddingLeft = 0; s.paddingRight = 0; },
                grid: { display: false }, border: { color: inkColor, width: 3 },
                ticks: { autoSkip: false, padding: 10, font: { size: 32 }, maxRotation: 0, callback: (v, i) => classNames[i] }
            },
            y: {
                min: 0, max: 50,
                afterFit: s => { s.width = 192; s.paddingTop = 0; s.paddingBottom = 0; },
                grid: { display: false }, border: { color: inkColor, width: 3 },
                ticks: { stepSize: 25, padding: 15, font: { size: 33 } },
                title: { display: true, text: 'Counts', font: { size: 40, lineHeight: 1 }, padding: { top: 81, bottom: 0 } }
            }
        }
    }
});
</script>
</body>
</html>
